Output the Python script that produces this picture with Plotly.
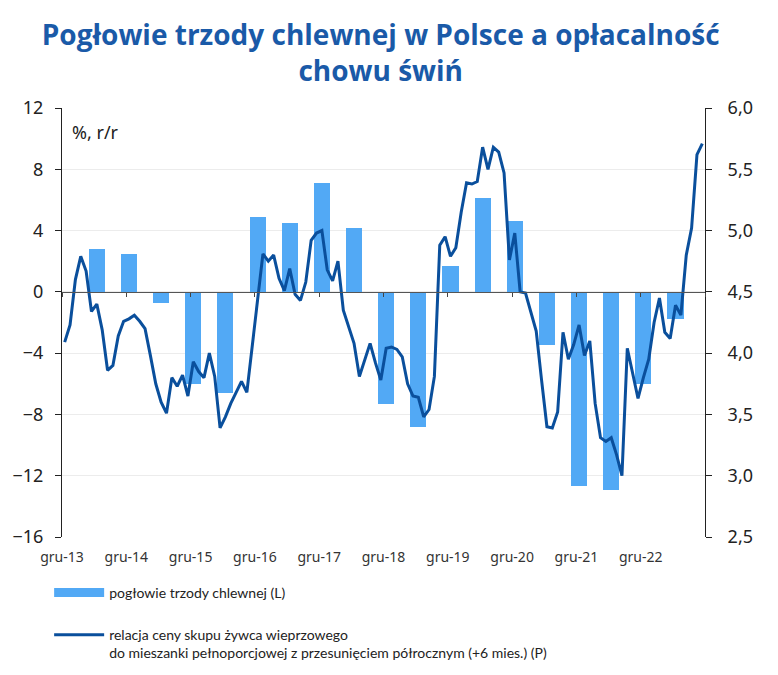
import plotly.graph_objects as go

# monthly categories: gru-13 (index 0) ... lis-23 (index 119)
year_labels = ["gru-13", "gru-14", "gru-15", "gru-16", "gru-17", "gru-18",
               "gru-19", "gru-20", "gru-21", "gru-22", ""]

# pig herd y/y (%), June and December census
herd_idx = [6, 12, 18, 24, 30, 36, 42, 48, 54, 60, 66, 72, 78, 84, 90, 96, 102, 108, 114]
herd_val = [2.8, 2.5, -0.7, -6.0, -6.6, 4.9, 4.5, 7.1, 4.2, -7.3, -8.8, 1.7, 6.1, 4.6,
            -3.5, -12.7, -12.9, -6.0, -1.8]

# price ratio, shifted +6 months (right axis)
ratio_val = [4.09, 4.23, 4.60, 4.79, 4.67, 4.34, 4.40, 4.19, 3.86, 3.90,
             4.14, 4.26, 4.28, 4.31, 4.26, 4.20, 3.98, 3.75, 3.60, 3.51,
             3.80, 3.73, 3.82, 3.65, 3.93, 3.85, 3.80, 4.00, 3.81, 3.39,
             3.48, 3.59, 3.68, 3.77, 3.68, 4.05, 4.46, 4.81, 4.75, 4.80,
             4.61, 4.51, 4.69, 4.48, 4.43, 4.58, 4.92, 4.98, 5.00, 4.68,
             4.59, 4.75, 4.35, 4.22, 4.08, 3.81, 3.94, 4.08, 3.92, 3.78,
             4.04, 4.05, 4.03, 3.97, 3.75, 3.65, 3.64, 3.48, 3.54, 3.81,
             4.88, 4.95, 4.79, 4.86, 5.15, 5.39, 5.38, 5.40, 5.68, 5.50,
             5.68, 5.64, 5.47, 4.76, 4.98, 4.50, 4.49, 4.33, 4.18, 3.78,
             3.40, 3.39, 3.52, 4.17, 3.95, 4.07, 4.23, 3.98, 4.10, 3.59,
             3.31, 3.28, 3.31, 3.17, 3.00, 4.04, 3.83, 3.63, 3.80, 3.95,
             4.25, 4.45, 4.17, 4.12, 4.39, 4.31, 4.80, 5.02, 5.62, 5.71]
ratio_idx = list(range(len(ratio_val)))

bar_color = "#52a9f5"
line_color = "#0a4f9c"
title_color = "#1a5aa8"

fig = go.Figure()
fig.add_trace(go.Bar(x=herd_idx, y=herd_val, width=3, marker_color=bar_color,
                     marker_line_width=0, name="pogłowie trzody chlewnej (L)",
                     showlegend=False, xaxis="x", yaxis="y"))
fig.add_trace(go.Scatter(x=ratio_idx, y=ratio_val, mode="lines",
                         line=dict(color=line_color, width=3),
                         showlegend=False, xaxis="x", yaxis="y2"))
# legend entries
fig.add_trace(go.Scatter(x=[None], y=[None], mode="lines",
                         line=dict(color=bar_color, width=9),
                         name="pogłowie trzody chlewnej (L)", legendgroup="a"))
fig.add_trace(go.Scatter(x=[None], y=[None], mode="lines",
                         line=dict(color=line_color, width=3),
                         name="relacja ceny skupu żywca wieprzowego<br>do mieszanki pełnoporcjowej z przesunięciem półrocznym (+6 mies.) (P)",
                         legendgroup="b"))
# axis at zero line with ticks
fig.add_trace(go.Scatter(x=[None], y=[None], xaxis="x2", yaxis="y", showlegend=False))

tickpos = [-0.5 + 12 * k for k in range(len(year_labels))]

# the page adds an 8px body margin, so the figure is 8px smaller and shifted
fig.update_layout(
    width=770, height=667,
    margin=dict(l=54, r=73, t=100, b=138, autoexpand=False),
    paper_bgcolor="white", plot_bgcolor="white",
    separators=", ",
    font=dict(family="Noto Sans", color="#222222"),
    title=dict(text="Pogłowie trzody chlewnej w Polsce a opłacalność<br>chowu świń",
               x=0.484, xanchor="center", yref="container", y=1 - 37 / 667, yanchor="middle",
               font=dict(family="Open Sans", size=28, color=title_color, weight="bold")),
    bargap=0,
    xaxis=dict(range=[-0.5, 119.5], tickmode="array", tickvals=tickpos,
               ticktext=year_labels, showgrid=False, zeroline=False, showline=False,
               ticks="", tickfont=dict(size=14, color="#333333"),
               ticklabelstandoff=10, automargin=False),
    xaxis2=dict(range=[-0.5, 119.5], overlaying="x", anchor="free", position=16 / 28,
                tickmode="array", tickvals=tickpos, showticklabels=False,
                ticks="outside", ticklen=4, tickcolor="#444444",
                showline=True, linecolor="#555555", linewidth=1,
                showgrid=False, zeroline=False, automargin=False),
    yaxis=dict(range=[-16, 12], dtick=4, tick0=0, showgrid=True, gridcolor="#ececec",
               zeroline=False, showline=True, linecolor="#222222", linewidth=1,
               ticks="outside", ticklen=6, tickcolor="#222222",
               tickfont=dict(size=18, color="#222222"), ticklabelstandoff=8,
               automargin=False),
    yaxis2=dict(range=[2.5, 6.0], dtick=0.5, tick0=2.5, tickformat=".1f",
                overlaying="y", side="right", showgrid=False, zeroline=False,
                showline=True, linecolor="#222222", linewidth=1,
                ticks="outside", ticklen=6, tickcolor="#222222",
                tickfont=dict(size=18, color="#222222"), ticklabelstandoff=12,
                automargin=False),
    legend=dict(x=-0.02, xanchor="left", y=-0.093, yanchor="top",
                orientation="v", tracegroupgap=21, itemwidth=50, valign="top",
                font=dict(family="Lato", size=14, color="#222222"),
                bgcolor="rgba(0,0,0,0)"),
    annotations=[dict(text="%, r/r", xref="paper", yref="paper", x=0.012, y=0.945,
                      xanchor="left", yanchor="middle", showarrow=False,
                      font=dict(size=18, color="#222222"))],
)

fig.write_html("out.html")
